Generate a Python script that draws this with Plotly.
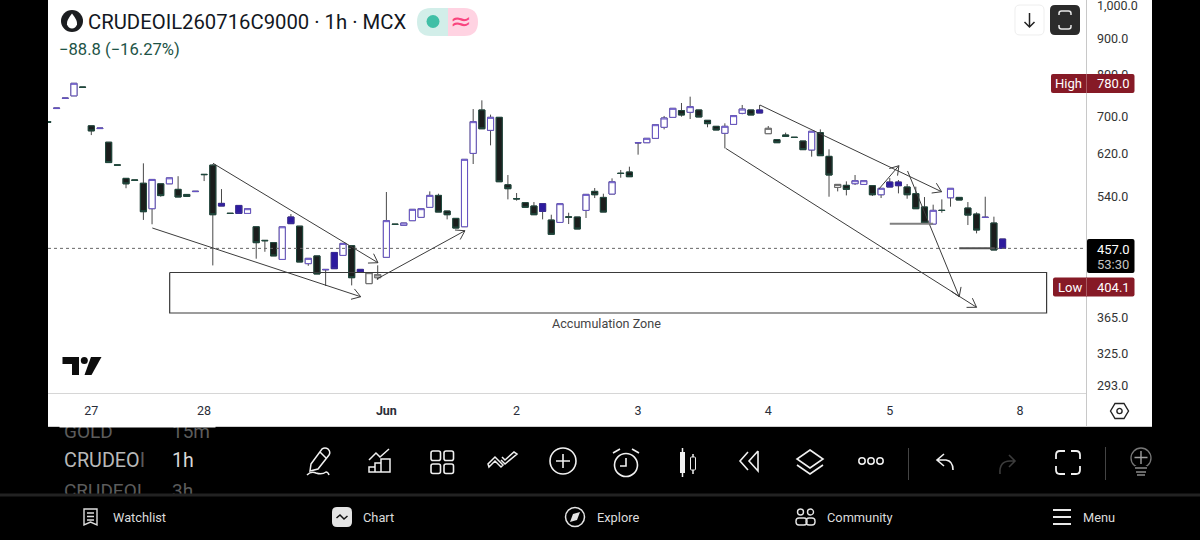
import math
import re
import plotly.graph_objects as go

# ---------------- data ----------------
OPEN = [688, 718, 742, 748, 769.5, 679, 673, 644, 598.5, 573, 570, 564, 519.5, 563, 563, 553, 544, 549, 580.5, 598,
        528.5, 512, 525, 511.7, 490, 469, 465.5, 441, 505.7, 491, 435, 446, 427, 451, 446.8, 461, 427, 407.8, 415.7, 444,
        494.2, 492.3, 499.8, 505.2, 521.8, 542.3, 515.6, 503.5, 490.1, 621.2, 714.7, 669.2, 697.9, 561.3, 536.7, 529.7, 524, 528, 500.8, 497,
        505.9, 505.7, 516.7, 549.4, 538.8, 544.7, 582.6, 584.9, 642.6, 643, 652.1, 675.8, 697.9, 713.2, 709.3, 714.7, 691.2, 677.9, 662.8, 682.2,
        707, 714.7, 714.7, 662, 649.3, 659.2, 654.4, 646.5, 628, 664.2, 615.2, 556.6, 560.2, 563.2, 561.9, 559.6, 543.5, 566.2, 566.2, 557.2,
        545.3, 522.4, 494.4, 516.9, 538.2, 538.8, 520.6, 510.6, 505.5, 496, 471]
HIGH = [688, 719, 742.5, 779, 769.5, 679, 674, 644, 598.5, 573, 570, 601.5, 571, 563, 574, 577, 544, 549.5, 580.5, 600,
        553.5, 512, 525, 519.5, 490, 469, 465.5, 490, 510.6, 491, 442.5, 446, 427, 451, 464.4, 461, 427, 422.5, 432.6, 548.3,
        494.2, 496, 518.4, 519.5, 549.4, 545.3, 515.6, 503.5, 609.3, 716.8, 737.3, 704, 697.9, 579.2, 546.5, 529.7, 530.8, 528, 509.5, 528,
        512.8, 505.7, 544.1, 555.4, 545.3, 573, 588.7, 595, 643, 652.1, 681.5, 701, 718.5, 731, 746.1, 714.7, 691.2, 677.9, 684.5, 701.7,
        726.3, 714.7, 726.3, 678.6, 649.3, 664.2, 654.4, 646.5, 667.1, 671.3, 629.4, 561.9, 567.5, 579.2, 568.7, 559.6, 554.8, 573.6, 569.9, 562.6,
        557.8, 539.4, 526.3, 535.4, 554.8, 538.8, 530.8, 513.4, 540, 506.3, 471]
LOW = [687, 718, 742, 748, 769, 659, 673, 603, 598, 555, 569.5, 501, 494, 540, 563, 539.5, 540.5, 549, 568, 432.5,
       524, 511.5, 511.7, 511.7, 442, 452, 446, 441, 495, 437.3, 432, 420.7, 404.7, 428, 446.8, 405.5, 423, 407.8, 412.6, 444,
       493.8, 492.3, 499.8, 505.2, 521.8, 513.9, 501.9, 488, 490.1, 600.2, 672.6, 637.5, 566.8, 535.4, 533.2, 521.8, 509.5, 501.9, 478.2, 497,
       494.4, 486.5, 504.1, 537.7, 513.9, 544.7, 574.2, 576.1, 618.6, 643, 652.1, 671.3, 697.9, 699.4, 694.1, 698.7, 675.8, 669.9, 631.4, 682.2,
       704.8, 703.2, 707.8, 662, 643, 656.3, 654, 628.7, 614.6, 616.6, 540, 549.4, 542.3, 560.8, 561.9, 541.2, 537.7, 557.2, 545.9, 536.5,
       519.5, 496, 494.4, 512.8, 522.9, 534.3, 492.8, 479.7, 505, 454.6, 457]
CLOSE = [687, 719, 742.5, 779, 769, 668, 674, 603, 598, 563, 569.5, 514.5, 571, 542, 574, 539.5, 540.5, 549.5, 580, 509.5,
         524, 511.5, 511.7, 519.5, 465.5, 468.5, 446, 490, 495, 437.3, 442.5, 420.7, 426.6, 428, 464.4, 415.7, 423, 422.5, 419.8, 499.8,
         493.8, 496, 518.4, 519.5, 542.3, 513.9, 509.5, 488, 609.3, 688.2, 672.6, 697.9, 566.8, 554.2, 536.3, 521.8, 509.5, 515, 478.2, 528,
         505.5, 486.5, 544.1, 543.5, 513.9, 566.8, 582.1, 576.1, 643, 652.1, 681.5, 696.4, 718.5, 703.2, 722.4, 698.7, 683.8, 669.9, 677.9, 701.7,
         716.8, 703.2, 707.8, 673.5, 643, 656.3, 654, 628.7, 667.1, 616.6, 579.2, 561.9, 553, 568.7, 568.7, 543.5, 554.8, 557.2, 559.6, 543.5,
         519.5, 496, 516.7, 516.5, 554.8, 534.3, 508.9, 484.9, 505, 454.6, 457]
# style of every bar, oldest first, 20 to a row as in the price lists
KIND = list(
    "dhhhddhdddddhdhddhdd"
    "bdbhdddhbdhdhbhdbkgh"
    "dhhhhdddhhdhdddddbdh"
    "ddhddhddhhhhhdhdddhh"
    "hdbkddddhddkdhhdhbbd"
    "ddhdhdddhdb"
)

TICK_BARS = [5, 18, 39, 54, 68, 83, 97, 112]
TICK_TEXT = ["27", "28", "<b>Jun</b>", "2", "3", "4", "5", "8"]
PRICE_TICKS = [1000, 900, 800, 700, 620, 540, 365, 325, 293]
PRICE_TEXT = ["1,000.0", "900.0", "800.0", "700.0", "620.0", "540.0", "365.0", "325.0", "293.0"]

LAST_PRICE = 457.0
ARROWS = [
    (12.03, 488.1, 36.04, 390.9),
    (19.02, 601.6, 38.03, 436.3),
    (37.9, 413.9, 48.05, 483.8),
    (82.04, 726.2, 102.97, 548.8),
    (78.09, 631.4, 107.0, 377.8),
    (95.75, 553.6, 98.05, 596.9),
    (99.05, 586.8, 105.0, 390.9),
]
ZONE_BARS = [14.03, 115.07]
ZONE_PRICES = [422.7, 370.9]
LEVELS = [(97.0, 102.0, 494.9, "#808080"), (105.0, 109.1, 457.0, "#505050")]

X_RANGE = [0.01, 119.61]
Y_RANGE = [286.4, 1019.6]

STYLES = {
    "d": ("#1b1d1c", "#1f4a3e"),
    "h": ("#ffffff", "#6552c4"),
    "b": ("#2d1a9e", "#3a2a9a"),
    "k": ("#ffffff", "#666666"),
    "g": ("#bdbdbd", "#777777"),
}

# ---------------- layout helpers ----------------
W, H = 1200, 540
PL, PR, PT, PB = 48, 1086, 0, 393
PX_BAR = (PR - PL) / (X_RANGE[1] - X_RANGE[0])
PX_LN = (PB - PT) / math.log(Y_RANGE[1] / Y_RANGE[0])


def fx(px):
    return px / W


def fy(py):
    return 1 - py / H


def to_paper(path):
    """Convert an SVG path written in screen pixels to paper coordinates."""
    out, is_x = [], True
    for tok in re.findall(r"[A-Za-z]|-?[\d.]+", path):
        if tok.isalpha():
            out.append(tok)
            is_x = True
        else:
            v = float(tok)
            out.append(f"{fx(v) if is_x else fy(v):.5f}")
            is_x = not is_x
    return " ".join(out)


shapes, notes = [], []


def path(d, fill=None, line=None, width=1.5, layer="above"):
    shapes.append(dict(type="path", xref="paper", yref="paper", path=to_paper(d), layer=layer,
                       fillcolor=fill or "rgba(0,0,0,0)",
                       line=dict(color=line or "rgba(0,0,0,0)", width=width if line else 0)))


def rect(x0, y0, x1, y1, fill=None, line=None, width=1, layer="above"):
    shapes.append(dict(type="rect", xref="paper", yref="paper", x0=fx(x0), x1=fx(x1), y0=fy(y0), y1=fy(y1),
                       layer=layer, fillcolor=fill or "rgba(0,0,0,0)",
                       line=dict(color=line or "rgba(0,0,0,0)", width=width if line else 0)))


def rrect(x0, y0, x1, y1, r, fill=None, line=None, width=1):
    d = (f"M {x0+r} {y0} L {x1-r} {y0} Q {x1} {y0} {x1} {y0+r} L {x1} {y1-r} Q {x1} {y1} {x1-r} {y1} "
         f"L {x0+r} {y1} Q {x0} {y1} {x0} {y1-r} L {x0} {y0+r} Q {x0} {y0} {x0+r} {y0} Z")
    path(d, fill, line, width)


def circle(cx, cy, r, fill=None, line=None, width=1.5):
    shapes.append(dict(type="circle", xref="paper", yref="paper", x0=fx(cx - r), x1=fx(cx + r),
                       y0=fy(cy + r), y1=fy(cy - r), layer="above",
                       fillcolor=fill or "rgba(0,0,0,0)",
                       line=dict(color=line or "rgba(0,0,0,0)", width=width if line else 0)))


def text(x, y, s, size=13, color="#333333", anchor="left", family="Roboto"):
    notes.append(dict(xref="paper", yref="paper", x=fx(x), y=fy(y), text=s, showarrow=False,
                      xanchor=anchor, yanchor="middle", borderpad=0, borderwidth=0, align=anchor,
                      font=dict(family=family, size=size, color=color)))


def mask(x0, y0, x1, y1, col):
    notes.append(dict(xref="paper", yref="paper", x=fx((x0 + x1) / 2), y=fy((y0 + y1) / 2), text=" ", showarrow=False,
                      width=x1 - x0, height=y1 - y0, xanchor="center", yanchor="middle", bgcolor=col, borderpad=0,
                      font=dict(size=1)))


# ---------------- traces ----------------
n = len(OPEN)
BARS = list(range(n))
fig = go.Figure()
wick = "#484848"
fig.add_trace(go.Candlestick(
    x=BARS, open=OPEN, high=HIGH, low=LOW, close=CLOSE, whiskerwidth=0, hoverinfo="skip", showlegend=False,
    increasing=dict(line=dict(color=wick, width=1), fillcolor="#ffffff"),
    decreasing=dict(line=dict(color=wick, width=1), fillcolor="#ffffff")))
for key, (fill, edge) in STYLES.items():
    idx = [i for i in BARS if KIND[i] == key]
    fig.add_trace(go.Candlestick(
        x=idx,
        open=[OPEN[i] for i in idx], close=[CLOSE[i] for i in idx],
        high=[max(OPEN[i], CLOSE[i]) for i in idx], low=[min(OPEN[i], CLOSE[i]) for i in idx],
        whiskerwidth=0, hoverinfo="skip", showlegend=False,
        increasing=dict(line=dict(color=edge, width=1), fillcolor=fill),
        decreasing=dict(line=dict(color=edge, width=1), fillcolor=fill)))

# last price dotted line
fig.add_trace(go.Scatter(x=X_RANGE, y=[LAST_PRICE, LAST_PRICE], mode="lines", hoverinfo="skip", showlegend=False,
                         line=dict(color="#666666", width=1, dash="dot")))

# accumulation zone
fig.add_trace(go.Scatter(
    x=[ZONE_BARS[0], ZONE_BARS[1], ZONE_BARS[1], ZONE_BARS[0], ZONE_BARS[0]],
    y=[ZONE_PRICES[0], ZONE_PRICES[0], ZONE_PRICES[1], ZONE_PRICES[1], ZONE_PRICES[0]],
    mode="lines", hoverinfo="skip", showlegend=False, line=dict(color="#3a3a3a", width=1.2)))

# arrows with open heads
ax, ay = [], []
for x0, p0, x1, p1 in ARROWS:
    dx = (x1 - x0) * PX_BAR
    dy = math.log(p1 / p0) * PX_LN
    ang = math.atan2(dy, dx)
    ax += [x0, x1, None]
    ay += [p0, p1, None]
    for side in (-1, 1):
        a = ang + math.pi + side * math.radians(33)
        ax += [x1, x1 + 10 * math.cos(a) / PX_BAR, None]
        ay += [p1, p1 * math.exp(10 * math.sin(a) / PX_LN), None]
fig.add_trace(go.Scatter(x=ax, y=ay, mode="lines", hoverinfo="skip", showlegend=False,
                         line=dict(color="#3c3c3c", width=1)))

# horizontal level markers
for x0, x1, lvl, col in LEVELS:
    fig.add_trace(go.Scatter(x=[x0, x1], y=[lvl, lvl], mode="lines", hoverinfo="skip", showlegend=False,
                             line=dict(color=col, width=2)))

# ---------------- chrome ----------------
rect(48, 0, 1152, 426, fill="#ffffff", layer="below")
rect(48, 426, 1152, 427, fill="#cfcfcf", layer="below")
rect(1086, 0, 1087, 426, fill="#c8c8c8", layer="above")

# symbol icon and header
circle(72, 21, 11, fill="#1b1d20")
path("M 72 13.5 Q 78 21 77 24.5 Q 75.5 28.5 72 28.5 Q 68.5 28.5 67 24.5 Q 66 21 72 13.5 Z", fill="#ffffff")
text(88, 21.5, "CRUDEOIL260716C9000 · 1h · MCX", size=20.3, color="#131722")
text(58.5, 49, "−88.8 (−16.27%)", size=16.6, color="#1d5346")
path("M 448 8 L 431 8 Q 417 8 417 22 Q 417 36 431 36 L 448 36 Z", fill="#d2eee9")
path("M 448 8 L 464 8 Q 478 8 478 22 Q 478 36 464 36 L 448 36 Z", fill="#ffd3e2")
circle(433, 21.5, 6.5, fill="#40bfa6")
text(461, 21, "≈", size=26, color="#f9447f", anchor="center", family="DejaVu Sans")

# top right buttons
rrect(1015, 5, 1044, 35, 5, fill="#ffffff", line="#eeeeee")
path("M 1029.5 13 L 1029.5 27 M 1024.5 22 L 1029.5 27 L 1034.5 22", line="#222222", width=1.5)
rrect(1050, 5, 1080, 35, 5, fill="#2b2b2b")
path("M 1059 15 L 1059 13.5 Q 1059 11 1061.5 11 L 1068.5 11 Q 1071 11 1071 13.5 L 1071 15 "
     "M 1059 25 L 1059 26.5 Q 1059 29 1061.5 29 L 1068.5 29 Q 1071 29 1071 26.5 L 1071 25", line="#e8e8e8", width=1.5)

# TradingView logo
path("M 62.5 357 L 79 357 L 79 375 L 72 375 L 72 364 L 62.5 364 Z", fill="#0d0d0d")
circle(84.3, 360.5, 3.5, fill="#0d0d0d")
path("M 91 357 L 101.5 357 L 91.5 375 L 84.5 375 Z", fill="#0d0d0d")

text(606.5, 323.5, "Accumulation Zone", size=12.6, color="#444444", anchor="center")

# price badges
rrect(1051, 74, 1134.5, 93, 2, fill="#861a26")
text(1068, 83.5, "High", size=13, color="#ffffff", anchor="center")
text(1113, 83.5, "780.0", size=13, color="#ffffff", anchor="center")
rect(1086, 74, 1087, 93, fill="#a85a62")
rrect(1053, 277.5, 1134.5, 296.5, 2, fill="#861a26")
text(1069.5, 287, "Low", size=13, color="#ffffff", anchor="center")
text(1113, 287, "404.1", size=13, color="#ffffff", anchor="center")
rect(1086, 277.5, 1087, 296.5, fill="#a85a62")
rrect(1087, 239, 1134.5, 273, 2, fill="#000000")
text(1113, 249, "457.0", size=13, color="#ffffff", anchor="center")
text(1113, 264, "53:30", size=13, color="#c4c4c4", anchor="center")

# gear hexagon
path("M 1110.5 411 L 1115 403.5 L 1124 403.5 L 1128.5 411 L 1124 418.5 L 1115 418.5 Z", line="#222222", width=1.4)
circle(1119.5, 411, 2.6, line="#222222", width=1.4)

# watchlist rows, clipped by neighbours
text(64, 431.5, "GOLD", size=19, color="#5c5c5c")
text(172, 431.5, "15m", size=19, color="#5c5c5c")
text(64, 460, 'CRUDEO<span style="color:#5a5a5a">I</span>', size=19.8, color="#b8b8b8")
text(172, 460, "1h", size=19.5, color="#d8d8d8")
text(64, 490, "CRUDEOI", size=19, color="#5c5c5c")
text(172, 490, "3h", size=19, color="#5c5c5c")
mask(60, 419, 215, 427, "#ffffff")
mask(60, 495, 215, 504, "#000000")
mask(0, 494, 1200, 496, "#222222")

WH = "#f0f0f0"
# pencil
path("M 311 464 L 322 449 Q 325 447 328 449 Q 331 452 329 455 L 318 469 L 310 471 Z M 320 452 L 326 458", line=WH)
path("M 307 475 Q 311 471 316 473 Q 322 475 326 472 Q 328 472 329 475", line=WH)
# chart
path("M 369 460 L 376 453 L 380 457 L 389 449", line=WH)
path("M 369 472 L 369 467 L 375 467 L 375 472 Z M 375 472 L 375 463 L 381 463 L 381 472 Z M 381 472 L 381 459 L 390 459 L 390 472 Z", line=WH)
# grid
for gx in (431, 444):
    for gy in (451, 464):
        rrect(gx, gy, gx + 9.5, gy + 9.5, 2, line=WH, width=1.6)
# double check
path("M 489 467 L 495 461 L 501 467 L 503 465 L 495 457 L 488 464 Z M 501 460 L 505 464 L 517 454 L 514 452 L 505 460 L 502 457", line=WH)
# plus in circle
circle(563, 461, 13, line=WH, width=1.6)
path("M 563 454 L 563 468 M 556 461 L 570 461", line=WH, width=1.6)
# alarm
circle(626, 465, 11.5, line=WH, width=1.6)
path("M 626 458 L 626 466 L 620 466 M 613 453 L 620 449 M 632 449 L 639 453", line=WH, width=1.6)
# candles
rect(680, 452, 685, 473, fill=WH)
path("M 682.5 448 L 682.5 477 M 693 454 L 693 474", line=WH)
rrect(690.5, 457, 695.5, 470, 1, fill="#000000", line=WH)
# rewind
path("M 748 452 L 740 461 L 748 470 M 758 451 L 749 461 L 758 471 L 758 451", line=WH, width=1.6)
# layers
path("M 810 450 L 823 459 L 810 468 L 797 459 Z M 797 465 L 810 474 L 823 465", line=WH, width=1.6)
# more
for mx in (862, 871, 880):
    circle(mx, 461, 3.2, line=WH, width=1.5)
rect(908, 448, 909, 480, fill="#444444")
# undo
path("M 944 454 L 937 460 L 944 466 M 937 460 L 946 460 Q 953 461 953 470", line=WH, width=1.6)
path("M 1000 474 Q 999 461 1010 461 L 1015 461 M 1009 455 L 1015 461 L 1009 467", line="#3c3c3c", width=1.6)
# fullscreen
path("M 1056 459 L 1056 455 Q 1056 451 1060 451 L 1065 451 M 1071 451 L 1076 451 Q 1080 451 1080 455 L 1080 459 "
     "M 1080 466 L 1080 470 Q 1080 474 1076 474 L 1071 474 M 1065 474 L 1060 474 Q 1056 474 1056 470 L 1056 466",
     line=WH, width=1.8)
rect(1105, 447, 1106, 480, fill="#444444")
# bulb
circle(1141, 458, 10, line="#777777", width=1.3)
path("M 1141 451 L 1141 464 M 1134.5 457.5 L 1147.5 457.5", line="#a0a0a0", width=1.4)
rect(1135, 466, 1147, 476, fill="#000000")
path("M 1135 468 L 1147 468 M 1136 472 L 1146 472 M 1137 475 L 1145 475", line="#8a8a8a", width=1.4)

# bottom navigation
path("M 84 509 L 97 509 L 97 525 L 90.5 522 L 84 525 Z M 87 513 L 94 513 M 87 516.5 L 94 516.5 M 87 520 L 94 520", line="#dddddd", width=1.4)
text(113, 517.5, "Watchlist", size=12.8, color="#dcdcdc")
rrect(332, 507, 352, 527, 5, fill="#e4e4e4")
path("M 336.5 518 L 340 515 L 344 519 L 347.5 516", line="#111111", width=1.5)
text(363, 517.5, "Chart", size=12.8, color="#dcdcdc")
circle(575, 517, 9.5, line="#e4e4e4", width=1.5)
path("M 580 512 L 577 520 L 570 522 L 573 514 Z", fill="#e4e4e4")
text(597, 517.5, "Explore", size=12.8, color="#dcdcdc")
circle(800.5, 512, 3, line="#e4e4e4", width=1.4)
circle(810.5, 512, 3, line="#e4e4e4", width=1.4)
rrect(796, 518, 807, 525, 3, line="#e4e4e4", width=1.4)
rrect(806, 518, 815, 525, 3, line="#e4e4e4", width=1.4)
text(827, 517.5, "Community", size=12.8, color="#dcdcdc")
path("M 1053 510 L 1071 510 M 1053 517 L 1071 517 M 1053 524 L 1071 524", line="#e8e8e8", width=2.2)
text(1083, 517.5, "Menu", size=12.8, color="#dcdcdc")

fig.update_layout(
    width=W, height=H, autosize=False,
    margin=dict(l=0, r=0, t=0, b=0, autoexpand=False),
    paper_bgcolor="#000000", plot_bgcolor="#ffffff",
    showlegend=False, boxmode="overlay", boxgap=0.3, boxgroupgap=0, hovermode=False,
    shapes=shapes, annotations=notes,
    font=dict(family="Roboto", color="#333333", size=12.5),
    xaxis=dict(domain=[PL / W, PR / W], range=X_RANGE, type="linear", rangeslider=dict(visible=False),
               tickmode="array", tickvals=TICK_BARS, ticktext=TICK_TEXT, showgrid=False, zeroline=False,
               showline=True, linecolor="#d6d6d6", linewidth=1, ticks="", ticklabelstandoff=6,
               tickfont=dict(family="Roboto", size=12.5, color="#2a2e39"), fixedrange=True),
    yaxis=dict(domain=[1 - PB / H, 1], type="log",
               range=[math.log10(Y_RANGE[0]), math.log10(Y_RANGE[1])],
               side="right", anchor="x", tickmode="array", tickvals=PRICE_TICKS, ticktext=PRICE_TEXT,
               showgrid=False, zeroline=False, showline=False, ticks="", ticklabelstandoff=10,
               ticklabeloverflow="allow",
               tickfont=dict(family="Roboto", size=12.5, color="#333333"), fixedrange=True),
)

assert len(KIND) == n, (len(KIND), n)
fig.write_html("out.html", config={"displayModeBar": False},
               post_script="document.body.style.margin='0';document.body.style.background='#000';document.documentElement.style.overflow='hidden';")
